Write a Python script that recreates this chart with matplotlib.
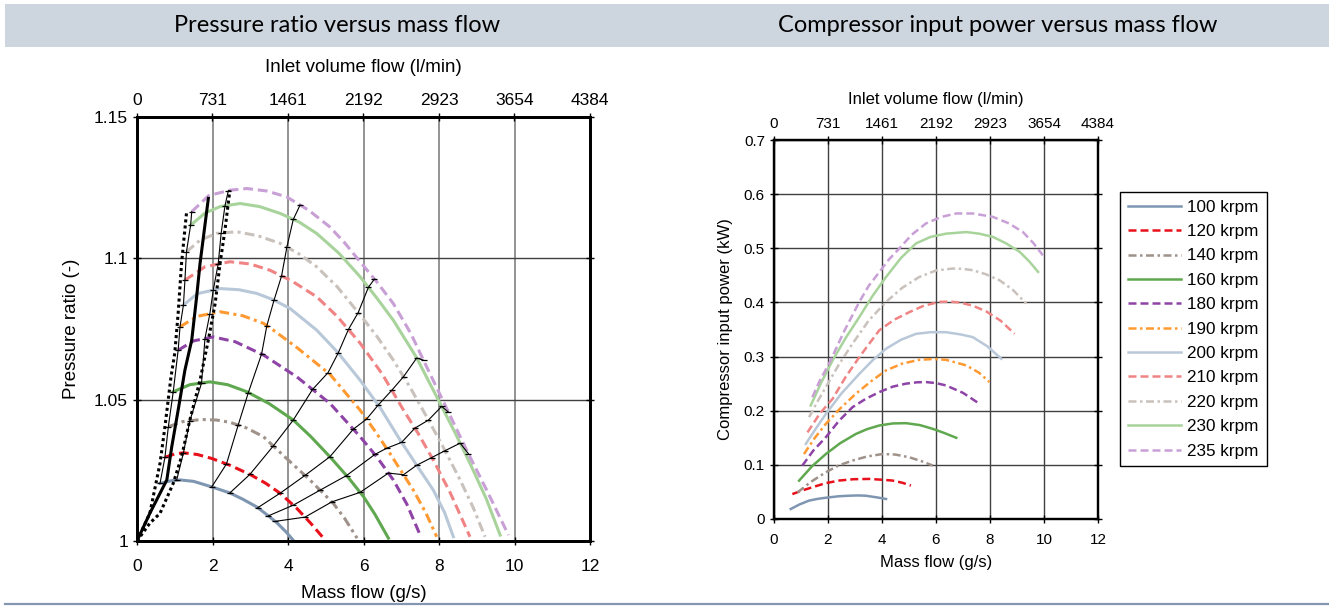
import numpy as np
import matplotlib.pyplot as plt
from matplotlib.patches import Rectangle
from matplotlib.lines import Line2D

W, H = 1329, 615

# speeds and styling order
speeds = ['100 krpm', '120 krpm', '140 krpm', '160 krpm', '180 krpm', '190 krpm',
          '200 krpm', '210 krpm', '220 krpm', '230 krpm', '235 krpm']
colors = ['#7f96b2', '#e8101a', '#9e928a', '#5fa84f', '#8e44a6', '#ff9a33',
          '#b9c8d8', '#f08484', '#c9c1bc', '#a8d49c', '#c9a0d6']
dash = (0, (3.2, 1.6))
dashdot = (0, (3.2, 1.4, 1, 1.4))
styles = ['-', dash, dashdot, '-', dash, dashdot, '-', dash, dashdot, '-', dash]

# pressure ratio map: mass flow (g/s) and pressure ratio (-)
pr_m = [
    [0.61, 0.9, 1.14, 1.5, 1.99, 2.46, 2.8, 3.18, 3.47, 3.71, 3.95, 4.13],
    [0.74, 1.0, 1.23, 1.6, 1.98, 2.46, 3.0, 3.4, 3.79, 4.23, 4.6, 4.98],
    [0.83, 1.2, 1.71, 2.1, 2.46, 2.9, 3.35, 3.88, 4.58, 5.2, 5.5, 5.83],
    [0.96, 1.4, 1.93, 2.4, 2.91, 3.5, 4.14, 4.6, 5.11, 5.6, 6.0, 6.3, 6.66],
    [1.09, 1.5, 2.02, 2.6, 3.35, 4.23, 5.11, 5.91, 6.35, 6.79, 7.15, 7.5],
    [1.14, 1.6, 2.2, 2.8, 3.35, 3.61, 4.23, 5.11, 5.91, 6.3, 6.70, 7.32, 7.65, 7.94],
    [1.23, 1.6, 2.2, 2.7, 3.17, 3.6, 4.05, 4.76, 5.3, 5.91, 6.45, 6.97, 7.45, 7.85, 8.15, 8.38],
    [1.27, 1.8, 2.46, 3.0, 3.52, 4.1, 4.76, 5.3, 5.91, 6.5, 7.06, 7.45, 7.85, 8.3, 8.82],
    [1.31, 1.67, 2.1, 2.64, 3.2, 3.79, 4.3, 4.76, 5.3, 5.91, 6.35, 6.79, 7.25, 7.67, 8.1,
     8.56, 8.9, 9.22],
    [1.42, 1.8, 2.2, 2.73, 3.25, 3.79, 4.3, 4.76, 5.35, 5.91, 6.35, 6.79, 7.4, 7.94, 8.4,
     8.82, 9.25, 9.62],
    [1.45, 1.9, 2.46, 2.91, 3.45, 3.97, 4.55, 5.11, 5.5, 5.91, 6.35, 6.79, 7.25, 7.67, 8.2,
     8.73, 9.3, 9.84],
]
pr_v = [
    [1.0204, 1.0213, 1.0216, 1.0211, 1.0191, 1.0170, 1.0148, 1.0120, 1.0090, 1.0064, 1.0032,
     1.0004],
    [1.0296, 1.0308, 1.0312, 1.0306, 1.0292, 1.0268, 1.0235, 1.0205, 1.0169, 1.0116, 1.0063,
     1.0004],
    [1.0404, 1.0422, 1.0430, 1.0428, 1.0420, 1.0400, 1.0369, 1.0302, 1.0216, 1.0133, 1.0080,
     1.0010],
    [1.0528, 1.0553, 1.0563, 1.0553, 1.0528, 1.0486, 1.0428, 1.0370, 1.0298, 1.0224, 1.0157,
     1.0095, 1.0010],
    [1.0675, 1.0708, 1.0722, 1.0705, 1.0658, 1.0581, 1.0487, 1.0369, 1.0298, 1.0216, 1.0130,
     1.0021],
    [1.0758, 1.0795, 1.0811, 1.0797, 1.0770, 1.0746, 1.0685, 1.0590, 1.0463, 1.0390, 1.0310,
     1.0180, 1.0100, 1.0015],
    [1.0835, 1.0875, 1.0893, 1.0889, 1.0876, 1.0854, 1.0823, 1.0746, 1.0670, 1.0569, 1.0470,
     1.0357, 1.0260, 1.0180, 1.0100, 1.0015],
    [1.0923, 1.0970, 1.0988, 1.0980, 1.0958, 1.0920, 1.0864, 1.0795, 1.0700, 1.0590, 1.0463,
     1.0380, 1.0286, 1.0170, 1.0015],
    [1.1023, 1.1064, 1.1088, 1.1094, 1.1080, 1.1053, 1.1015, 1.0970, 1.0900, 1.0800, 1.0725,
     1.0640, 1.0540, 1.0440, 1.0335, 1.0216, 1.0120, 1.0015],
    [1.1117, 1.1160, 1.1183, 1.1194, 1.1183, 1.1159, 1.1128, 1.1088, 1.1018, 1.0935, 1.0860,
     1.0781, 1.0650, 1.0510, 1.0390, 1.0275, 1.0150, 1.0021],
    [1.1165, 1.1222, 1.1241, 1.1247, 1.1238, 1.1217, 1.1170, 1.1111, 1.1055, 1.0988, 1.0917,
     1.0840, 1.0735, 1.0617, 1.0470, 1.0322, 1.0170, 1.0021],
]

# surge line and its bounds
surge_m = [0, 0.34, 0.79, 0.92, 1.09, 1.27, 1.45, 1.58, 1.67, 1.89]
surge_v = [1.0, 1.0098, 1.0216, 1.0333, 1.0463, 1.0605, 1.0711, 1.0864, 1.0982, 1.1212]
lo_m = [0, 0.34, 0.61, 0.74, 0.90, 1.0, 1.09, 1.18, 1.31]
lo_v = [1.0, 1.0098, 1.0275, 1.0404, 1.0580, 1.0664, 1.0805, 1.0982, 1.1159]
hi_m = [0, 0.34, 0.61, 0.96, 1.18, 1.40, 1.67, 1.89, 2.07, 2.20, 2.33, 2.46]
hi_v = [1.0, 1.0063, 1.0098, 1.0204, 1.0298, 1.0428, 1.0569, 1.0711, 1.084, 1.0982, 1.11, 1.1241]

# thin operating lines: mass flow where each crosses the speed lines
op_lines = [
    [1.05, 1.23, 1.40, 1.71, 1.80, 1.93, 2.02, 2.15, 2.23, 2.33, 2.42],
    [1.98, 2.37, 2.68, 2.95, 3.30, 3.44, 3.63, 3.83, 3.97, 4.14, 4.32],
    [2.46, 2.99, 3.61, 4.14, 4.65, 5.06, 5.33, 5.60, 5.86, 6.13, 6.29],
    [3.2, 3.79, 4.45, 5.11, 5.73, 6.08, 6.39, 6.75, 7.06, 7.41, 7.59],
    [3.48, 4.14, 4.85, 5.55, 6.30, 6.61, 7.01, 7.36, 7.72, 8.07, 8.25],
    [3.66, 4.45, 5.16, 5.91, 6.66, 7.06, 7.41, 7.81, 8.16, 8.56, 8.78],
]

# compressor power: mass flow (g/s) and power (kW)
pw_m = [
    [0.62, 0.95, 1.30, 1.65, 2.04, 2.4, 2.78, 3.1, 3.40, 3.8, 4.15],
    [0.68, 1.0, 1.42, 1.9, 2.41, 2.95, 3.53, 4.0, 4.39, 4.75, 5.07],
    [0.87, 1.35, 1.92, 2.4, 2.91, 3.45, 4.02, 4.5, 5.01, 5.45, 5.88],
    [0.93, 1.4, 1.92, 2.45, 3.03, 3.45, 3.90, 4.4, 4.89, 5.4, 5.88, 6.3, 6.75],
    [1.05, 1.45, 1.92, 2.4, 2.91, 3.4, 3.90, 4.4, 4.89, 5.3, 5.63, 6.0, 6.37, 7.0, 7.61],
    [1.11, 1.5, 1.92, 2.45, 3.03, 3.6, 4.15, 4.75, 5.38, 5.9, 6.37, 7.12, 7.6, 7.98],
    [1.18, 1.55, 1.92, 2.5, 3.16, 3.65, 4.15, 4.7, 5.26, 5.8, 6.37, 6.9, 7.36, 7.9, 8.42],
    [1.24, 1.7, 2.17, 2.65, 3.16, 3.5, 3.90, 4.45, 5.01, 5.55, 6.13, 6.5, 6.87, 7.36, 7.86,
     8.4, 8.91],
    [1.30, 1.6, 1.92, 2.4, 2.91, 3.5, 4.15, 4.75, 5.38, 6.0, 6.62, 7.0, 7.36, 7.85, 8.35,
     8.85, 9.34],
    [1.36, 1.75, 2.17, 2.65, 3.16, 3.65, 4.15, 4.7, 5.26, 5.8, 6.37, 7.12, 7.6, 8.11, 8.6,
     9.10, 9.45, 9.78],
    [1.42, 1.7, 2.04, 2.6, 3.16, 3.5, 3.90, 4.25, 4.64, 5.1, 5.63, 6.2, 6.75, 7.36, 8.11,
     8.7, 9.22, 9.6, 9.96],
]
pw_v = [
    [0.0185, 0.027, 0.034, 0.0375, 0.040, 0.042, 0.043, 0.0435, 0.043, 0.040, 0.037],
    [0.046, 0.052, 0.0586, 0.066, 0.071, 0.0735, 0.074, 0.0725, 0.071, 0.067, 0.0617],
    [0.049, 0.068, 0.0864, 0.099, 0.108, 0.1155, 0.120, 0.119, 0.114, 0.107, 0.0987],
    [0.0709, 0.097, 0.120, 0.140, 0.157, 0.166, 0.1727, 0.1765, 0.177, 0.1735, 0.1665, 0.159,
     0.150],
    [0.0987, 0.126, 0.151, 0.181, 0.2066, 0.222, 0.2344, 0.2445, 0.250, 0.2525, 0.2529, 0.251,
     0.2467, 0.233, 0.2128],
    [0.120, 0.149, 0.1758, 0.204, 0.2313, 0.2545, 0.2745, 0.287, 0.294, 0.2955, 0.294, 0.2837,
     0.270, 0.2529],
    [0.1388, 0.167, 0.194, 0.232, 0.268, 0.293, 0.3145, 0.331, 0.342, 0.345, 0.345, 0.341,
     0.336, 0.319, 0.296],
    [0.160, 0.195, 0.222, 0.262, 0.299, 0.322, 0.3485, 0.368, 0.382, 0.394, 0.401, 0.4015,
     0.400, 0.394, 0.3835, 0.366, 0.342],
    [0.188, 0.216, 0.2436, 0.285, 0.324, 0.366, 0.401, 0.427, 0.447, 0.459, 0.4626, 0.4620,
     0.4595, 0.452, 0.441, 0.423, 0.398],
    [0.2097, 0.252, 0.293, 0.334, 0.373, 0.412, 0.447, 0.482, 0.509, 0.521, 0.527, 0.530,
     0.527, 0.521, 0.509, 0.4934, 0.476, 0.4564],
    [0.225, 0.256, 0.287, 0.347, 0.401, 0.430, 0.456, 0.479, 0.4996, 0.525, 0.546, 0.558,
     0.5643, 0.5643, 0.558, 0.546, 0.530, 0.510, 0.487],
]

mass_ticks = [0, 2, 4, 6, 8, 10, 12]
vol_labels = ['0', '731', '1461', '2192', '2923', '3654', '4384']
pr_ticks = [1, 1.05, 1.1, 1.15]
pr_labels = ['1', '1.05', '1.1', '1.15']
pw_ticks = [0, 0.1, 0.2, 0.3, 0.4, 0.5, 0.6, 0.7]
pw_labels = ['0', '0.1', '0.2', '0.3', '0.4', '0.5', '0.6', '0.7']

plt.rcParams['font.family'] = ['Liberation Sans', 'DejaVu Sans']

fig = plt.figure(figsize=(W / 100, H / 100), dpi=100)

# header band and bottom rule
fig.add_artist(Rectangle((5 / W, 1 - 47 / H), (W - 5) / W, 43 / H, transform=fig.transFigure,
                         facecolor='#cdd5df', edgecolor='none', zorder=0))
fig.add_artist(Line2D([5 / W, 1], [1 - 604 / H, 1 - 604 / H], transform=fig.transFigure,
                      color='#8497b0', lw=1.6))
fig.text(337 / W, 1 - 25 / H, 'Pressure ratio versus mass flow', ha='center', va='center',
         fontsize=17, family='Lato')
fig.text(998 / W, 1 - 25 / H, 'Compressor input power versus mass flow', ha='center', va='center',
         fontsize=17, family='Lato')


def style_axes(ax, fs, spine_w, pad):
    for s in ax.spines.values():
        s.set_linewidth(spine_w)
    ax.tick_params(direction='inout', length=6, width=1, labelsize=fs,
                   top=False, right=True)
    ax.tick_params(axis='x', pad=pad)


# ---- left: pressure ratio ----
ax1 = fig.add_axes([137 / W, 1 - 541 / H, 453 / W, 424 / H])
ax1.set_xlim(0, 12)
ax1.set_ylim(1, 1.15)
ax1.set_xticks(mass_ticks)
ax1.set_yticks(pr_ticks)
ax1.set_yticklabels(pr_labels)
ax1.xaxis.grid(True, color='#808080', lw=1.2)
ax1.yaxis.grid(True, color='#404040', lw=1.0)
style_axes(ax1, 12.5, 2.0, 10)
ax1.set_xlabel('Mass flow (g/s)', fontsize=13.5, labelpad=8)
ax1.set_ylabel('Pressure ratio (-)', fontsize=13.5, labelpad=10)

for i in range(len(speeds)):
    ax1.plot(pr_m[i], pr_v[i], color=colors[i], ls=styles[i], lw=2.2, zorder=2)

ax1.plot(surge_m, surge_v, color='k', lw=2.2, zorder=4)
ax1.plot(lo_m, lo_v, color='k', lw=2.2, ls=(0, (1, 1)), zorder=4)
ax1.plot(hi_m, hi_v, color='k', lw=2.2, ls=(0, (1, 1)), zorder=4)

start_m = [c[0] for c in pr_m]
start_v = [c[0] for c in pr_v]
ax1.plot(start_m, start_v, color='k', lw=0.8, marker='_', ms=4, mew=0.9, zorder=3)
for line in op_lines:
    yv = [np.interp(line[i], pr_m[i], pr_v[i]) for i in range(len(speeds))]
    ax1.plot(line, yv, color='k', lw=0.8, marker='_', ms=4, mew=0.9, zorder=3)

top1 = ax1.twiny()
top1.set_xlim(ax1.get_xlim())
top1.set_xticks(mass_ticks)
top1.set_xticklabels(vol_labels)
top1.tick_params(direction='inout', length=6, width=1, labelsize=12.5)
top1.set_xlabel('Inlet volume flow (l/min)', fontsize=13.5, labelpad=15)
for s in top1.spines.values():
    s.set_linewidth(2.0)

# ---- right: input power ----
ax2 = fig.add_axes([774 / W, 1 - 519 / H, 324 / W, 379 / H])
ax2.set_xlim(0, 12)
ax2.set_ylim(0, 0.7)
ax2.set_xticks(mass_ticks)
ax2.set_yticks(pw_ticks)
ax2.set_yticklabels(pw_labels)
ax2.grid(True, color='#404040', lw=1.0)
style_axes(ax2, 11, 1.6, 7)
ax2.set_xlabel('Mass flow (g/s)', fontsize=12, labelpad=6)
ax2.set_ylabel('Compressor input power (kW)', fontsize=12, labelpad=8)

handles = []
for i in range(len(speeds)):
    h, = ax2.plot(pw_m[i], pw_v[i], color=colors[i], ls=styles[i], lw=1.8, label=speeds[i])
    handles.append(h)

top2 = ax2.twiny()
top2.set_xlim(ax2.get_xlim())
top2.set_xticks(mass_ticks)
top2.set_xticklabels(vol_labels)
top2.tick_params(direction='inout', length=6, width=1, labelsize=11)
top2.set_xlabel('Inlet volume flow (l/min)', fontsize=12, labelpad=9)
for s in top2.spines.values():
    s.set_linewidth(1.6)

leg = fig.legend(handles=handles, loc='upper left', bbox_to_anchor=(1120 / W, 1 - 192 / H),
                 borderaxespad=0, fancybox=False, framealpha=1, edgecolor='k',
                 prop={'family': 'Liberation Sans', 'size': 12.3}, handlelength=3.1,
                 handletextpad=0.4, labelspacing=0.55, borderpad=0.45)
leg.get_frame().set_linewidth(1.0)

fig.savefig('out.png', dpi=100)
